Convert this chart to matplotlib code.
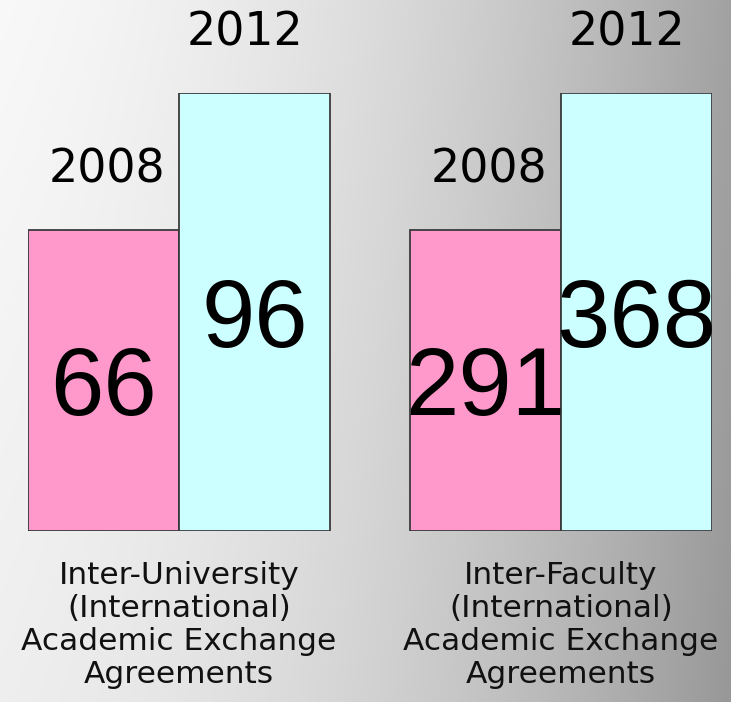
import matplotlib
matplotlib.use("Agg")
import matplotlib.pyplot as plt
import numpy as np

# values shown on the bars
groups = ["Inter-University\n(International)\nAcademic Exchange\nAgreements",
          "Inter-Faculty\n(International)\nAcademic Exchange\nAgreements"]
years = ["2008", "2012"]
values = [[66, 96], [291, 368]]
# the slide draws both groups with the same bar shape (scaled from the first group)
drawn_heights = [66, 96]

COLORS = ["#FF99CC", "#CCFFFF"]
EDGE = "#3a3a3a"

W, H = 731, 702
fig = plt.figure(figsize=(W / 100, H / 100), dpi=100)

# ---------------- gradient background
bg = fig.add_axes([0, 0, 1, 1])
u = np.linspace(0, 1, 400)[None, :]
v = np.linspace(0, 1, 400)[:, None]
g = 0.975 - 0.10 * u - 0.24 * u ** 2 - 0.04 * v
g = np.clip(g, 0, 1)
bg.imshow(np.dstack([g, g, g]), aspect="auto", extent=[0, 1, 1, 0])
bg.set_axis_off()

# ---------------- bars
ax = fig.add_axes([28 / W, (H - 531) / H, (712 - 28) / W, 438 / H])
ax.patch.set_alpha(0)
ax.set_axis_off()
BW = 1.0
GAP = 382 / 151
ax.set_xlim(0, GAP + 2 * BW)
ax.set_ylim(0, 96)

for gi, (gname, vals) in enumerate(zip(groups, values)):
    x0 = gi * GAP
    for j, (h, val) in enumerate(zip(drawn_heights, vals)):
        xc = x0 + (j + 0.5) * BW
        ax.bar(xc, h, width=BW, color=COLORS[j], edgecolor=EDGE, lw=1.3)
        ax.text(xc, h / 2 - 7.6, str(val), ha="center", va="baseline",
                fontsize=69, family="Liberation Sans", color="black")
        dx = -0.06 if j == 1 else 0.02
        ax.text(xc + dx, h + 10.4, years[j], ha="center", va="baseline",
                fontsize=33, family="DejaVu Sans", color="black")
    ax.text(x0 + BW, -6.6, gname, ha="center", va="top", fontsize=22.5,
            family="DejaVu Sans", linespacing=1.17, clip_on=False,
            color="#111111")

fig.savefig("out.png", dpi=100)
